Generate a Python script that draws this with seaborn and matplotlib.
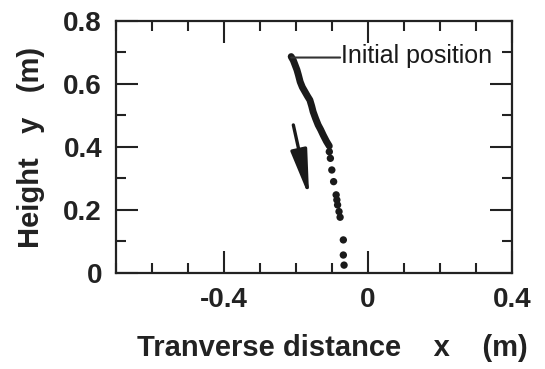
import numpy as np
import pandas as pd
import seaborn as sns
import matplotlib
matplotlib.use("Agg")
import matplotlib.pyplot as plt
from matplotlib.ticker import MultipleLocator

# dense part of the trace (dots packed so tight they read as a line)
x_dense = [-0.213, -0.207, -0.202, -0.197, -0.193, -0.188, -0.182, -0.175, -0.168,
           -0.161, -0.156, -0.152, -0.145, -0.138, -0.131, -0.124, -0.115, -0.107]
y_dense = [0.687, 0.675, 0.660, 0.645, 0.629, 0.607, 0.590, 0.576, 0.562,
           0.549, 0.530, 0.512, 0.490, 0.470, 0.455, 0.438, 0.418, 0.403]

# sparse dots further down
x_dots = [-0.107, -0.104, -0.100, -0.095, -0.088, -0.086, -0.084, -0.080, -0.077,
          -0.068, -0.068, -0.066]
y_dots = [0.385, 0.364, 0.327, 0.290, 0.248, 0.232, 0.216, 0.195, 0.177,
          0.105, 0.057, 0.025]

start = (-0.213, 0.684)
label_at = (-0.077, 0.684)
arrow_tail = (-0.207, 0.470)
arrow_tip = (-0.163, 0.242)

sns.set_style("ticks")
plt.rcParams["font.family"] = ["Liberation Sans", "DejaVu Sans"]

fig = plt.figure(figsize=(5.45, 3.69), dpi=100)
ax = fig.add_axes([0.2128, 0.2602, 0.7261, 0.6829])

dense = pd.DataFrame({"x": x_dense, "y": y_dense})
dots = pd.DataFrame({"x": x_dots, "y": y_dots})

sns.lineplot(data=dense, x="x", y="y", sort=False, estimator=None, ax=ax,
             color="#1a1a1a", linewidth=5, solid_capstyle="round")
sns.scatterplot(data=dots, x="x", y="y", ax=ax, color="#1a1a1a", s=28,
                edgecolor="none")

# arrow showing direction of motion
ax.annotate("", xy=arrow_tip, xytext=arrow_tail,
            arrowprops=dict(arrowstyle="-|>,head_length=1.4,head_width=0.25",
                            mutation_scale=20, lw=2.4, color="#1a1a1a",
                            shrinkA=0, shrinkB=0))

# leader line + label
ax.annotate("", xy=start, xytext=label_at,
            arrowprops=dict(arrowstyle="-", lw=1.5, color="#333333",
                            shrinkA=0, shrinkB=0))
ax.text(label_at[0] + 0.002, 0.666, "Initial position", fontsize=18,
        va="baseline", ha="left", color="#1a1a1a")

ax.set_xlim(-0.7, 0.4)
ax.set_ylim(0, 0.8)
ax.xaxis.set_minor_locator(MultipleLocator(0.1))
ax.yaxis.set_minor_locator(MultipleLocator(0.1))
ax.set_xticks([-0.4, 0, 0.4])
ax.set_xticklabels(["-0.4", "0", "0.4"])
ax.set_yticks([0, 0.2, 0.4, 0.6, 0.8])
ax.set_yticklabels(["0", "0.2", "0.4", "0.6", "0.8"])

ax.tick_params(which="both", direction="in", top=True, right=True,
               width=1.5, color="#222222")
ax.tick_params(which="major", length=16, labelsize=20, pad=10)
ax.tick_params(which="minor", length=7.5)
for lab in ax.get_xticklabels() + ax.get_yticklabels():
    lab.set_fontweight("bold")
    lab.set_color("#222222")
for s in ax.spines.values():
    s.set_linewidth(1.6)
    s.set_color("#222222")

ax.set_xlabel("Tranverse distance    x    (m)", fontsize=21, fontweight="bold",
              color="#222222", labelpad=15)
ax.xaxis.label.set_x(0.547)
ax.set_ylabel("Height   y   (m)", fontsize=21, fontweight="bold",
              color="#222222", labelpad=13)

fig.savefig("out.png", dpi=100)
